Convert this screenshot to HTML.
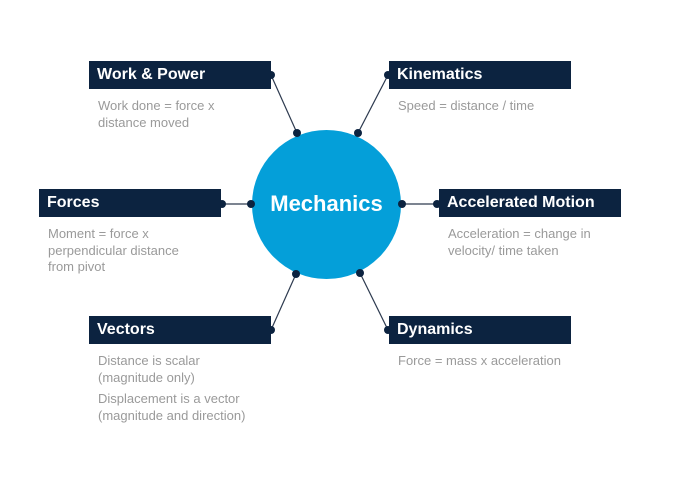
<!DOCTYPE html>
<html><head><meta charset="utf-8"><style>
body{margin:0;width:683px;height:477px;background:#fff;position:relative;overflow:hidden;font-family:"Liberation Sans",sans-serif}
.box{position:absolute;height:28px;background:#0c2340;color:#fff;font-weight:bold;font-size:16px;line-height:28px;padding-left:8px;box-sizing:border-box;width:182px}
.desc{position:absolute;color:#9a9a9a;font-size:13px;line-height:16.5px}
svg{position:absolute;left:0;top:0}
</style></head><body>
<svg width="683" height="477">
<g stroke="#2d3a4f" stroke-width="1.2">
<line x1="271" y1="75" x2="297" y2="133"/><line x1="388" y1="75" x2="358" y2="133"/>
<line x1="222" y1="204" x2="251" y2="204"/><line x1="402" y1="204" x2="437" y2="204"/>
<line x1="271" y1="330" x2="296" y2="274"/><line x1="388" y1="330" x2="360" y2="273"/>
</g>
<circle cx="326.5" cy="204.5" r="74.5" fill="#049fd9"/>
<text x="326.5" y="211" text-anchor="middle" fill="#fff" font-family="Liberation Sans" font-weight="bold" font-size="22">Mechanics</text>
<g fill="#0c2340">
<circle cx="271" cy="75" r="4"/><circle cx="388" cy="75" r="4"/><circle cx="222" cy="204" r="4"/><circle cx="437" cy="204" r="4"/><circle cx="271" cy="330" r="4"/><circle cx="388" cy="330" r="4"/>
<circle cx="297" cy="133" r="4"/><circle cx="358" cy="133" r="4"/><circle cx="251" cy="204" r="4"/><circle cx="402" cy="204" r="4"/><circle cx="296" cy="274" r="4"/><circle cx="360" cy="273" r="4"/>
</g>
</svg>
<div class="box" style="left:89px;top:61px">Work &amp; Power</div>
<div class="desc" style="left:98px;top:98px">Work done = force x<br>distance moved</div>
<div class="box" style="left:389px;top:61px">Kinematics</div>
<div class="desc" style="left:398px;top:98px">Speed = distance / time</div>
<div class="box" style="left:39px;top:189px">Forces</div>
<div class="desc" style="left:48px;top:226px">Moment = force x<br>perpendicular distance<br>from pivot</div>
<div class="box" style="left:439px;top:189px">Accelerated Motion</div>
<div class="desc" style="left:448px;top:226px">Acceleration = change in<br>velocity/ time taken</div>
<div class="box" style="left:89px;top:316px">Vectors</div>
<div class="desc" style="left:98px;top:353px">Distance is scalar<br>(magnitude only)<div style="height:5px"></div>Displacement is a vector<br>(magnitude and direction)</div>
<div class="box" style="left:389px;top:316px">Dynamics</div>
<div class="desc" style="left:398px;top:353px">Force = mass x acceleration</div>
</body></html>
